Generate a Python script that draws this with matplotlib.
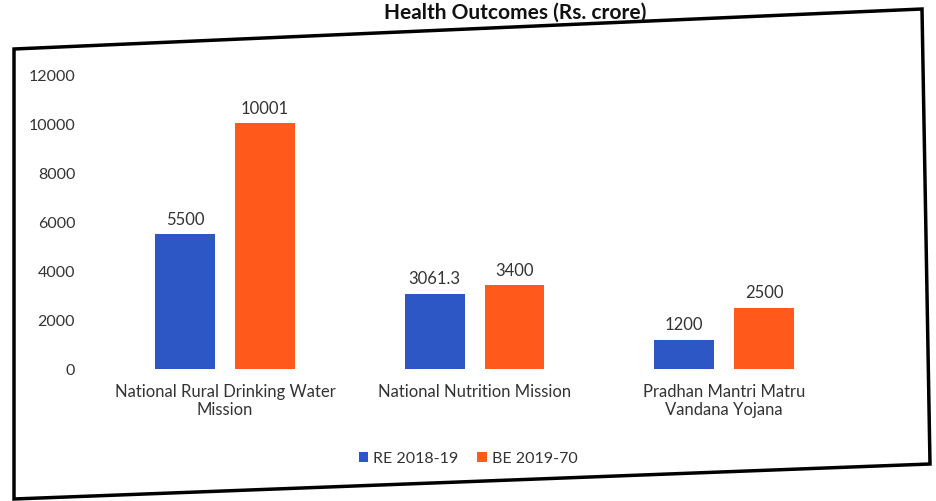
import matplotlib.pyplot as plt
import numpy as np
from matplotlib.patches import Polygon

plt.rcParams['font.family'] = ['Lato', 'DejaVu Sans']

categories = ["National Rural Drinking Water\nMission", "National Nutrition Mission",
              "Pradhan Mantri Matru\nVandana Yojana"]
re_2018_19 = [5500, 3061.3, 1200]
be_2019_20 = [10001, 3400, 2500]
re_labels = ["5500", "3061.3", "1200"]
be_labels = ["10001", "3400", "2500"]
series_names = ["RE 2018-19", "BE 2019-70"]
yticks = [0, 2000, 4000, 6000, 8000, 10000, 12000]

blue = "#2c57c4"
orange = "#ff5a1c"
txt = "#333333"

W, H = 936, 502
fig = plt.figure(figsize=(W / 100, H / 100), dpi=100)
ax = fig.add_axes([0.107, 0.263, 0.80, 0.587])

x = np.arange(len(categories))
w = 0.24
b1 = ax.bar(x - 0.16, re_2018_19, w, color=blue, label=series_names[0])
b2 = ax.bar(x + 0.16, be_2019_20, w, color=orange, label=series_names[1])
for bars, labs in ((b1, re_labels), (b2, be_labels)):
    for r, t in zip(bars, labs):
        ax.text(r.get_x() + r.get_width() / 2, r.get_height() + 300, t,
                ha="center", va="bottom", fontsize=12, color=txt)

ax.set_xlim(-0.5, 2.5)
ax.set_ylim(0, 12000)
ax.set_yticks(yticks)
ax.set_yticklabels([str(v) for v in yticks], fontsize=11.5, color=txt)
ax.set_xticks(x)
ax.set_xticklabels(categories, fontsize=12, color=txt)
ax.tick_params(axis="both", length=0, pad=10)
ax.tick_params(axis="y", pad=18)
for s in ax.spines.values():
    s.set_visible(False)

fig.legend(handles=[b1, b2], labels=series_names, loc="center",
           bbox_to_anchor=(0.5, 0.085), ncol=2, frameon=False, fontsize=11.5,
           handlelength=0.6, handleheight=0.6, handletextpad=0.3, columnspacing=1.2,
           labelcolor=txt)

fig.text(0.55, 0.975, "Health Outcomes (Rs. crore)", ha="center", va="center",
         fontsize=15, fontweight="bold", color="#111111")

corners_px = [(14, 50), (922, 10), (930, 465), (14, 500)]
corners = [(cx / W, 1 - cy / H) for cx, cy in corners_px]
fig.patches.append(Polygon(corners, closed=True, transform=fig.transFigure,
                           fill=False, edgecolor="black", linewidth=2.5))

fig.savefig("out.png", dpi=100)
